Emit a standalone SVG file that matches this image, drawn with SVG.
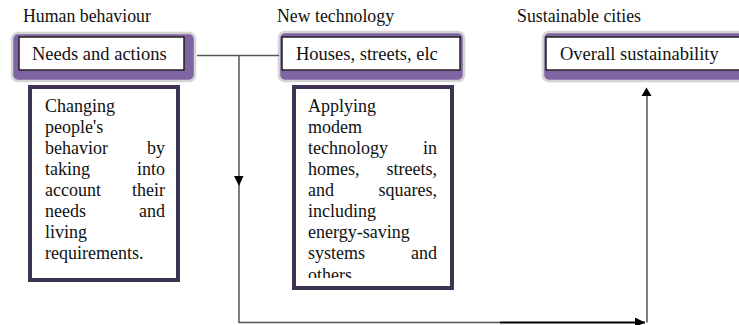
<svg xmlns="http://www.w3.org/2000/svg" width="739" height="325" viewBox="0 0 739 325">
<style>
.t{font-family:"Liberation Serif","Times New Roman",serif;fill:#111}
.title{font-size:17.8px}
.lbl{font-size:18.5px}
.body{font-size:18px}
.frame{fill:#8064a2;stroke:#d4d4d4;stroke-width:2.5}
.inner{fill:#fff;stroke:#222;stroke-width:1.5}
.box{fill:#fff;stroke:#3f3151;stroke-width:4}
.ln{fill:none;stroke:#555;stroke-width:1.5}
.e{text-anchor:end}
</style>
<defs>
<marker id="ah" viewBox="0 0 10 10" refX="10" refY="5" markerWidth="10" markerHeight="10" markerUnits="userSpaceOnUse" orient="auto">
<path d="M0,0 L10,5 L0,10 z" fill="#000"/>
</marker>
<clipPath id="clip2"><rect x="296" y="89" width="154" height="189"/></clipPath>
</defs>
<g id="title-human"><text class="t title" x="23" y="22">Human behaviour</text></g>
<g id="title-tech"><text class="t title" x="277" y="22">New technology</text></g>
<g id="title-cities"><text class="t title" x="517" y="22">Sustainable cities</text></g>

<g id="needs">
<rect class="frame" x="12" y="33" width="183" height="48" rx="6"/>
<rect class="inner" x="19" y="37" width="165" height="33"/>
<text class="t lbl" x="32" y="60">Needs and actions</text>
</g>
<g id="houses">
<rect class="frame" x="279" y="32" width="185" height="49" rx="6"/>
<rect class="inner" x="282" y="37" width="178" height="33"/>
<text class="t lbl" x="296" y="60">Houses, streets, elc</text>
</g>
<g id="overall">
<rect class="frame" x="543" y="32" width="210" height="49" rx="6"/>
<rect class="inner" x="546" y="37" width="200" height="33"/>
<text class="t lbl" x="560" y="60">Overall sustainability</text>
</g>

<g id="changing">
<rect class="box" x="30" y="87" width="148" height="193"/>
<text class="t body" x="45" y="112">Changing</text>
<text class="t body" x="45" y="133">people's</text>
<text class="t body" x="45" y="154">behavior</text><text class="t body e" x="165" y="154">by</text>
<text class="t body" x="45" y="175">taking</text><text class="t body e" x="165" y="175">into</text>
<text class="t body" x="45" y="196">account</text><text class="t body e" x="165" y="196">their</text>
<text class="t body" x="45" y="217">needs</text><text class="t body e" x="165" y="217">and</text>
<text class="t body" x="45" y="238">living</text>
<text class="t body" x="45" y="259">requirements.</text>
</g>
<g id="applying">
<rect class="box" x="294" y="87" width="158" height="201"/>
<g clip-path="url(#clip2)">
<text class="t body" x="308" y="112">Applying</text>
<text class="t body" x="308" y="133">modem</text>
<text class="t body" x="308" y="154">technology</text><text class="t body e" x="437" y="154">in</text>
<text class="t body" x="308" y="175">homes,</text><text class="t body e" x="437" y="175">streets,</text>
<text class="t body" x="308" y="196">and</text><text class="t body e" x="437" y="196">squares,</text>
<text class="t body" x="308" y="217">including</text>
<text class="t body" x="308" y="238">energy-saving</text>
<text class="t body" x="308" y="259">systems</text><text class="t body e" x="437" y="259">and</text>
<text class="t body" x="308" y="281">others</text>
</g>
</g>

<g id="connectors">
<line class="ln" x1="197" y1="55.5" x2="279" y2="55.5"/>
<line class="ln" x1="239" y1="55.5" x2="239" y2="323"/>
<path d="M234,176 L243.5,176 L239,186 z" fill="#000"/>
<line class="ln" x1="239" y1="322.5" x2="500" y2="322.5"/>
<line x1="500" y1="322.5" x2="645" y2="322.5" stroke="#000" stroke-width="2.2" marker-end="url(#ah)"/>
<line class="ln" x1="647" y1="322.5" x2="647" y2="95"/>
<path d="M641.5,96 L651.5,96 L646.5,87.5 z" fill="#000"/>
</g>
</svg>
